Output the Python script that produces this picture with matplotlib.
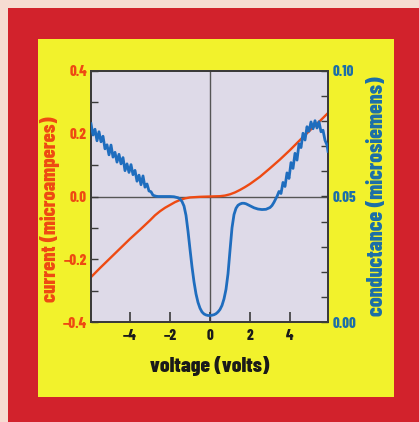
import matplotlib
matplotlib.use("Agg")
import matplotlib.pyplot as plt
from matplotlib.patches import Rectangle
from matplotlib.ticker import MultipleLocator, FixedLocator, FuncFormatter

# ---------------- data ----------------
current_v = [-5.95, -5.5, -5.0, -4.5, -4.0, -3.5, -3.0, -2.75, -2.5, -2.25, -2.0,
             -1.75, -1.5, -1.25, -1.0, -0.5, 0.0, 0.5, 0.75, 1.0, 1.25, 1.5, 1.75,
             2.0, 2.5, 3.0, 3.5, 4.0, 4.5, 5.0, 5.5, 5.9]
current_i = [-0.257, -0.228, -0.197, -0.166, -0.135, -0.106, -0.076, -0.060, -0.047,
             -0.036, -0.027, -0.018, -0.011, -0.006, -0.003, -0.001, 0.0, 0.001,
             0.003, 0.007, 0.013, 0.021, 0.030, 0.040, 0.063, 0.090, 0.118, 0.148,
             0.180, 0.211, 0.241, 0.266]

cond_v = [-5.95, -5.85, -5.75, -5.65, -5.55, -5.45, -5.35, -5.25, -5.15, -5.05,
          -4.95, -4.85, -4.75, -4.65, -4.55, -4.45, -4.35, -4.25, -4.15, -4.05,
          -3.95, -3.85, -3.75, -3.65, -3.55, -3.45, -3.35, -3.25, -3.15, -3.05,
          -2.95, -2.85,
          -2.7, -2.6, -2.4, -2.2, -2.0, -1.8, -1.7, -1.6, -1.5, -1.4, -1.3, -1.2,
          -1.1, -1.0, -0.9, -0.8, -0.7, -0.6, -0.5, -0.4, -0.3, -0.2, -0.1, 0.0,
          0.1, 0.2, 0.3, 0.4, 0.5, 0.6, 0.7, 0.8, 0.9, 1.0, 1.1, 1.2, 1.3, 1.4,
          1.5, 1.6, 1.7, 1.8, 1.9, 2.0, 2.2, 2.4, 2.6, 2.8, 3.0, 3.1, 3.2, 3.3,
          3.35, 3.45, 3.55, 3.65, 3.75, 3.85, 3.95, 4.05, 4.15, 4.25, 4.35, 4.45,
          4.55, 4.65, 4.75, 4.85, 4.95, 5.05, 5.15, 5.25, 5.35, 5.45, 5.55, 5.65,
          5.75, 5.85, 5.90]
cond_g = [0.0790, 0.0745, 0.0768, 0.0722, 0.0758, 0.0718, 0.0740, 0.0690, 0.0706, 0.0666,
          0.0705, 0.0657, 0.0676, 0.0637, 0.0668, 0.0630, 0.0655, 0.0603, 0.0630, 0.0596,
          0.0627, 0.0587, 0.0604, 0.0561, 0.0585, 0.0547, 0.0582, 0.0537, 0.0550, 0.0522,
          0.0519, 0.0505,
          0.0501, 0.0500, 0.0500, 0.0500, 0.0500, 0.0499, 0.0497, 0.0495, 0.0490, 0.0480,
          0.0462, 0.0425, 0.0362, 0.0290, 0.0220, 0.0160, 0.0112, 0.0078, 0.0055, 0.0040,
          0.0032, 0.0028, 0.0026, 0.0026, 0.0027, 0.0029, 0.0033, 0.0040, 0.0050, 0.0066,
          0.0092, 0.0130, 0.0192, 0.0285, 0.0375, 0.0428, 0.0453, 0.0465, 0.0470, 0.0473,
          0.0473, 0.0471, 0.0467, 0.0463, 0.0455, 0.0450, 0.0448, 0.0449, 0.0456, 0.0464,
          0.0477, 0.0493,
          0.0500, 0.0520, 0.0512, 0.0556, 0.0540, 0.0594, 0.0572, 0.0635, 0.0612, 0.0672,
          0.0645, 0.0710, 0.0695, 0.0752, 0.0725, 0.0778, 0.0760, 0.0797, 0.0770, 0.0802,
          0.0773, 0.0798, 0.0758, 0.0764, 0.0724, 0.0705, 0.0680]

x_ticks = [-4, -2, 0, 2, 4]
left_ticks = [-0.4, -0.2, 0.0, 0.2, 0.4]
right_ticks = [0.00, 0.05, 0.10]

xlabel = "voltage (volts)"
ylabel_left = "current (microamperes)"
ylabel_right = "conductance (microsiemens)"

# ---------------- style ----------------
RED_BG = "#D2222C"
YELLOW = "#F2F22C"
PLOT_BG = "#DEDAE8"
ORANGE = "#EE4A12"
BLUE = "#1F6DBE"
TEAL = "#1B6EA8"
SPINE = "#3A3A3A"
FONT = ["Barlow Condensed", "DejaVu Sans"]
W = 800

plt.rcParams['font.family'] = FONT
plt.rcParams['font.weight'] = W

fig = plt.figure(figsize=(4.19, 4.22), dpi=100)
fig.patch.set_facecolor("#F6DCD2")
fig.add_artist(Rectangle((8/419, 0), 1 - 8/419, 1 - 8/422, transform=fig.transFigure,
                         facecolor=RED_BG, edgecolor='none', zorder=0))
fig.add_artist(Rectangle((38/419, 1 - 397/422), 356/419, 358/422, transform=fig.transFigure,
                         facecolor=YELLOW, edgecolor='none', zorder=0.5))

ax = fig.add_axes([91/419, 1 - 322/422, 237/419, 251/422])
ax.set_facecolor(PLOT_BG)
ax.set_zorder(1)
ax.set_xlim(-5.95, 5.9)
ax.set_ylim(-0.4, 0.4)
ax.axhline(0, color="#555555", lw=1.0, zorder=1)
ax.axvline(0, color="#555555", lw=1.0, zorder=1)
ax.plot(current_v, current_i, color=ORANGE, lw=1.7, zorder=2, solid_capstyle='round')

ax.xaxis.set_major_locator(FixedLocator(x_ticks))
ax.set_xticklabels(["\u2212" + str(abs(t)) if t < 0 else str(t) for t in x_ticks])
ax.yaxis.set_major_locator(FixedLocator(left_ticks))
ax.yaxis.set_minor_locator(MultipleLocator(0.1))
ax.set_yticklabels([("\u2212%.1f" % abs(t)) if t < 0 else "%.1f" % t for t in left_ticks])
ax.tick_params(axis='x', direction='in', length=7, width=1.2, color=SPINE,
               labelsize=10.5, labelcolor="#1A1A1A", pad=5, top=False)
ax.tick_params(axis='y', which='both', direction='in', length=5, width=1.0, color=SPINE,
               labelsize=10.5, labelcolor=ORANGE, pad=3)
for s in ax.spines.values():
    s.set_color(SPINE)
    s.set_linewidth(1.3)

ax2 = ax.twinx()
ax2.set_ylim(0.0, 0.10)
ax2.plot(cond_v, cond_g, color=BLUE, lw=2.0, zorder=3, solid_joinstyle='round')
ax2.yaxis.set_major_locator(FixedLocator(right_ticks))
ax2.yaxis.set_minor_locator(MultipleLocator(0.01))
ax2.yaxis.set_major_formatter(FuncFormatter(lambda v, p: "%.2f" % v))
ax2.tick_params(axis='y', which='both', direction='in', length=5, width=1.0, color=SPINE,
                labelsize=10.5, labelcolor=TEAL, pad=3)
for s in ax2.spines.values():
    s.set_color(SPINE)
    s.set_linewidth(1.3)

ax.set_xlabel(xlabel, fontsize=15.5, fontweight=W, color="#1A1A1A", va='top')
ax.xaxis.set_label_coords(0.5, -0.135)
ax.set_ylabel(ylabel_left, fontsize=14.8, fontweight=W, color=ORANGE, va='bottom')
ax.yaxis.set_label_coords(-0.131, 0.45)
ax2.set_ylabel(ylabel_right, fontsize=15.8, fontweight=W, color=TEAL, va='top')
ax2.yaxis.set_label_coords(1.163, 0.5)

fig.savefig("out.png", dpi=100, facecolor=fig.get_facecolor())
